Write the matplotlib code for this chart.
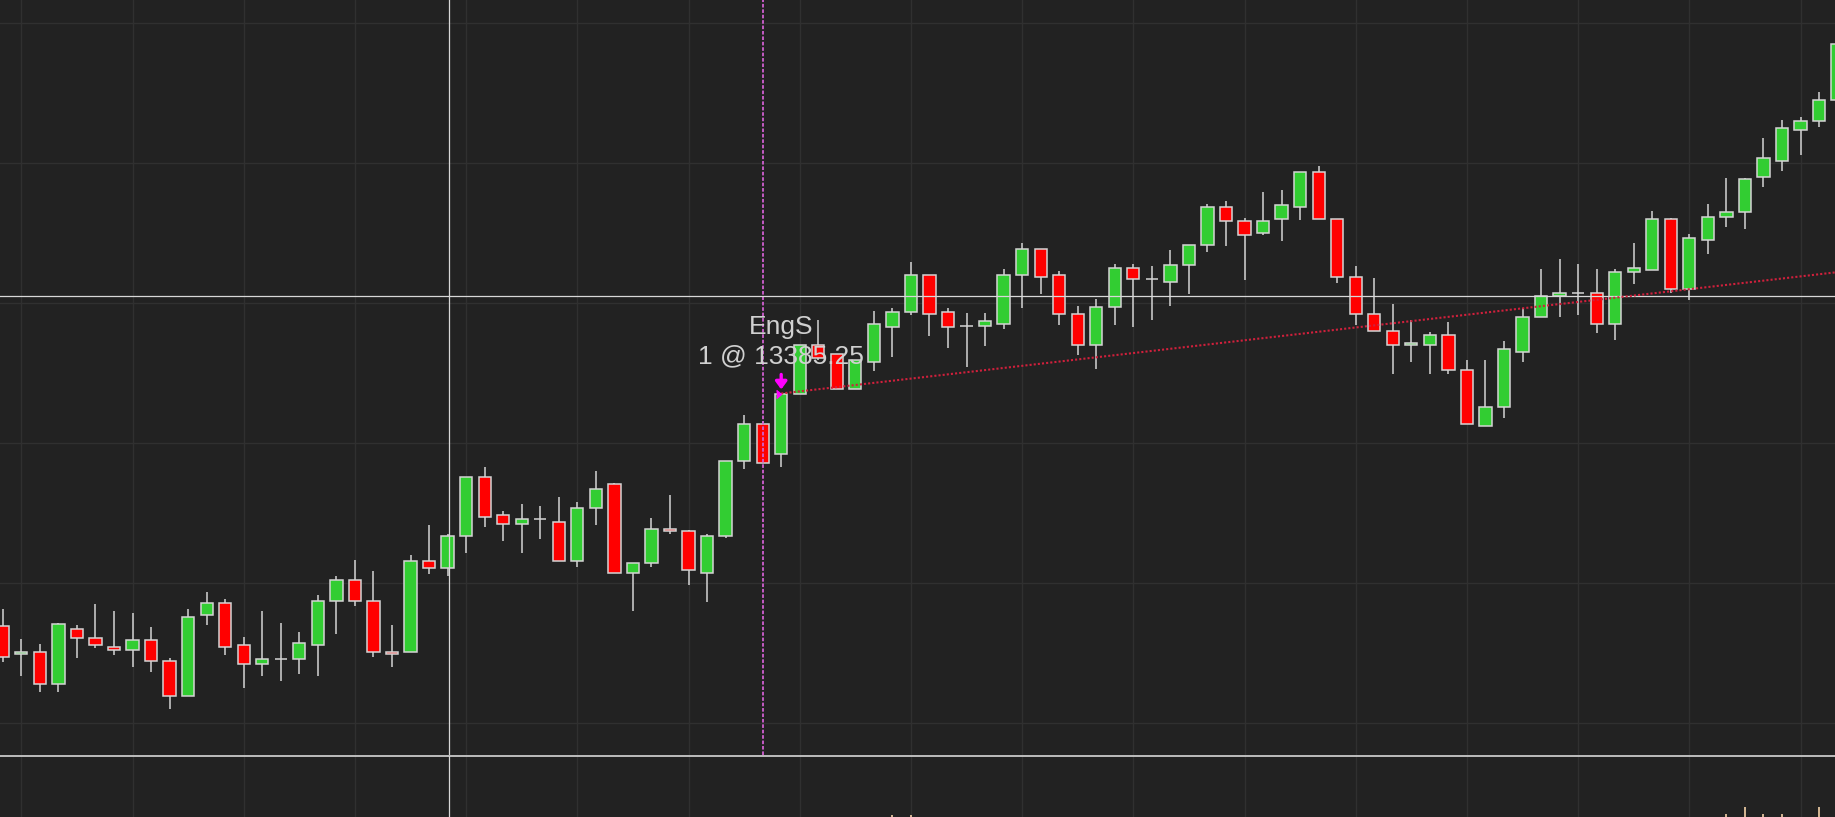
import matplotlib
matplotlib.use("Agg")
import matplotlib.pyplot as plt
from matplotlib.patches import Rectangle
from matplotlib.lines import Line2D
import numpy as np

# one-minute bars, left to right
opens = [13362.0, 13359.2, 13359.4, 13356.2, 13361.7, 13360.8, 13359.9, 13359.6, 13360.6, 13358.5,
         13355.0, 13363.1, 13364.3, 13360.1, 13358.2, 13358.7, 13358.7, 13360.1, 13364.5, 13366.6,
         13364.5, 13359.4, 13359.4, 13368.5, 13367.8, 13371.0, 13376.9, 13373.1, 13372.2, 13372.7,
         13372.4, 13368.5, 13373.8, 13376.2, 13367.3, 13368.3, 13371.7, 13371.5, 13367.3, 13371.0,
         13378.5, 13382.2, 13379.2, 13385.2, 13390.1, 13389.2, 13385.7, 13388.4, 13391.9, 13393.4,
         13397.1, 13393.4, 13392.0, 13392.0, 13392.2, 13397.1, 13399.7, 13397.1, 13393.2, 13390.1,
         13393.9, 13397.8, 13396.7, 13396.4, 13398.1, 13400.1, 13403.9, 13402.5, 13401.3, 13402.7,
         13403.9, 13407.4, 13402.7, 13396.9, 13393.2, 13391.5, 13390.1, 13390.1, 13391.1, 13387.6,
         13382.0, 13383.9, 13389.4, 13392.9, 13395.0, 13395.3, 13395.3, 13392.2, 13397.4, 13397.6,
         13402.7, 13395.7, 13400.6, 13402.9, 13403.4, 13406.9, 13408.5, 13411.6, 13412.5, 13414.6]

highs = [13363.7, 13360.7, 13360.2, 13362.3, 13362.1, 13364.2, 13363.5, 13363.3, 13361.9, 13358.8,
         13363.7, 13365.4, 13364.7, 13360.9, 13363.5, 13362.3, 13361.4, 13365.1, 13367.0, 13368.6,
         13367.5, 13362.1, 13369.1, 13372.1, 13371.2, 13376.9, 13377.9, 13373.5, 13374.2, 13374.0,
         13374.9, 13374.4, 13377.5, 13376.3, 13368.3, 13372.8, 13375.1, 13371.6, 13371.2, 13378.5,
         13383.1, 13382.5, 13385.2, 13390.1, 13392.6, 13389.2, 13388.6, 13393.5, 13393.8, 13398.4,
         13397.1, 13393.8, 13393.3, 13393.3, 13397.7, 13400.3, 13399.7, 13397.5, 13394.0, 13394.7,
         13398.2, 13398.2, 13398.0, 13399.6, 13400.1, 13404.2, 13404.5, 13402.8, 13405.4, 13405.6,
         13407.4, 13408.0, 13402.7, 13398.0, 13396.8, 13394.2, 13392.6, 13391.4, 13392.4, 13388.6,
         13388.6, 13390.5, 13393.8, 13397.7, 13398.7, 13398.2, 13397.7, 13397.7, 13400.3, 13403.5,
         13402.8, 13401.2, 13404.2, 13406.8, 13406.8, 13410.8, 13412.6, 13412.9, 13415.4, 13420.2]

lows = [13358.4, 13357.0, 13355.4, 13355.4, 13358.8, 13359.8, 13359.1, 13357.9, 13357.4, 13353.7,
        13355.0, 13362.1, 13359.1, 13355.8, 13357.0, 13356.5, 13357.2, 13357.0, 13361.2, 13364.0,
        13358.9, 13357.9, 13359.4, 13367.2, 13367.0, 13369.3, 13371.9, 13370.5, 13369.3, 13370.7,
        13368.5, 13367.9, 13372.1, 13367.3, 13363.5, 13367.9, 13371.2, 13366.1, 13364.4, 13370.8,
        13377.7, 13378.3, 13377.9, 13385.2, 13388.6, 13385.7, 13385.7, 13387.5, 13388.9, 13393.1,
        13391.0, 13389.8, 13387.9, 13390.0, 13391.7, 13393.8, 13395.2, 13392.1, 13389.1, 13387.7,
        13392.1, 13391.9, 13392.6, 13394.0, 13395.2, 13399.4, 13400.0, 13396.6, 13401.1, 13400.5,
        13402.6, 13402.7, 13396.3, 13392.1, 13391.5, 13387.2, 13388.4, 13387.2, 13387.2, 13382.2,
        13382.0, 13382.8, 13388.4, 13392.9, 13392.9, 13393.1, 13391.3, 13390.6, 13396.2, 13397.6,
        13395.3, 13394.6, 13399.2, 13401.9, 13401.7, 13405.9, 13407.5, 13409.1, 13411.9, 13414.6]

closes = [13358.9, 13359.4, 13356.2, 13362.2, 13360.8, 13360.1, 13359.6, 13360.6, 13358.5, 13355.0,
          13362.9, 13364.3, 13359.9, 13358.2, 13358.7, 13358.7, 13360.3, 13364.5, 13366.6, 13364.5,
          13359.4, 13359.2, 13368.5, 13367.8, 13371.0, 13376.9, 13372.9, 13372.2, 13372.7, 13372.7,
          13368.5, 13373.8, 13375.7, 13367.3, 13368.3, 13371.7, 13371.5, 13367.6, 13371.0, 13378.5,
          13382.2, 13378.3, 13385.2, 13390.1, 13388.8, 13385.7, 13388.6, 13392.2, 13393.4, 13397.1,
          13393.2, 13391.9, 13392.0, 13392.5, 13397.1, 13399.7, 13396.9, 13393.2, 13390.1, 13393.9,
          13397.8, 13396.7, 13396.7, 13398.1, 13400.1, 13403.9, 13402.5, 13401.1, 13402.5, 13404.1,
          13407.4, 13402.7, 13396.9, 13393.2, 13391.5, 13390.1, 13390.3, 13391.1, 13387.6, 13382.2,
          13383.9, 13389.7, 13392.9, 13395.0, 13395.3, 13395.3, 13392.2, 13397.4, 13397.8, 13402.7,
          13395.7, 13400.8, 13402.9, 13403.4, 13406.7, 13408.8, 13411.8, 13412.5, 13414.6, 13420.2]

# entry signal
entry_bar = 42
entry_price = 13385.25
entry_name = "EngS"
entry_qty = 1
signal_bar = 41

# stop line drawn from the entry
trend_x = [42, 100]
trend_y = [13385.25, 13397.6]

# crosshair
cross_x = 24.1
cross_y = 13395.0

# lower panel (only a few bars reach into view)
vol_bars = [48, 49, 93, 94, 95, 96, 98]
vol_values = [150, 150, 300, 1000, 300, 300, 1000]

BG = "#222222"
GRID = "#303030"
EDGE = "#d4d4d4"
UP = "#32cd32"
DOWN = "#ff0000"
LINE = "#d8d8d8"

plt.rcParams['font.family'] = ['Liberation Sans', 'DejaVu Sans']

fig = plt.figure(figsize=(18.35, 8.17), dpi=100, facecolor=BG)
ax = fig.add_axes([0, 62 / 817, 1, 755 / 817])
vax = fig.add_axes([0, 0, 1, 61 / 817])

for a in (ax, vax):
    a.set_facecolor(BG)
    a.set_xlim(-0.151, 98.86)
    a.set_xticks(np.arange(1, 100, 6))
    a.tick_params(length=0, labelbottom=False, labelleft=False)
    for s in a.spines.values():
        s.set_visible(False)
    a.grid(axis='x', color=GRID, lw=1, zorder=0)

ax.set_ylim(13349.1, 13424.6)
ax.set_yticks(np.arange(13352.3, 13424, 14))
ax.grid(axis='y', color=GRID, lw=1, zorder=0)
ax.set_axisbelow(True)
vax.set_ylim(0, 6000)
vax.set_axisbelow(True)

# candles
w = 0.66
for i in range(len(opens)):
    o, h, l, c = opens[i], highs[i], lows[i], closes[i]
    col = UP if c > o else DOWN
    ax.vlines(i, l, h, color=EDGE, lw=1.1, zorder=2)
    ax.add_patch(Rectangle((i - w / 2, min(o, c)), w, abs(c - o),
                           facecolor=col, edgecolor=EDGE, lw=1.1, zorder=3))

vax.vlines(vol_bars, 0, vol_values, color="#f5d2a8", lw=1.2, zorder=2)

# signal bar marker line
ax.axvline(signal_bar, color="#d060d0", lw=1.3, ls=(0, (2, 1)), zorder=4)

# crosshair
ax.axvline(cross_x, color=LINE, lw=0.9, zorder=6)
vax.axvline(cross_x, color=LINE, lw=0.9, zorder=6)
ax.axhline(cross_y, color=LINE, lw=0.9, zorder=6)

# stop line
ax.plot(trend_x, trend_y, color="#d0203c", lw=1.5, ls=(0, (1, 1)), zorder=6)

# entry arrow + triangle
ax.annotate('', xy=(entry_bar, entry_price), xytext=(0, 13.7), textcoords='offset points',
            arrowprops=dict(arrowstyle='-|>,head_width=0.28,head_length=0.38', color='#ff00ff',
                            lw=2.4, shrinkA=0, shrinkB=2.9, mutation_scale=12), zorder=7)
ax.plot(entry_bar, entry_price, marker=[(-1.2, -1), (0, 0), (-1.2, 1)], ms=7,
        color='#ff00ff', zorder=7)

ax.annotate(entry_name, xy=(entry_bar, entry_price), xytext=(0, 43), textcoords='offset points',
            ha='center', va='baseline', fontsize=19, color="#d0d0d0", zorder=8)
ax.annotate(f"{entry_qty} @ {entry_price:.2f}", xy=(entry_bar, entry_price), xytext=(0, 21.6),
            textcoords='offset points', ha='center', va='baseline', fontsize=19,
            color="#d0d0d0", zorder=8)

# panel separator
fig.add_artist(Line2D([0, 1], [61.5 / 817, 61.5 / 817], transform=fig.transFigure,
                      color=LINE, lw=1.2))

fig.savefig("out.png", dpi=100, facecolor=BG)
